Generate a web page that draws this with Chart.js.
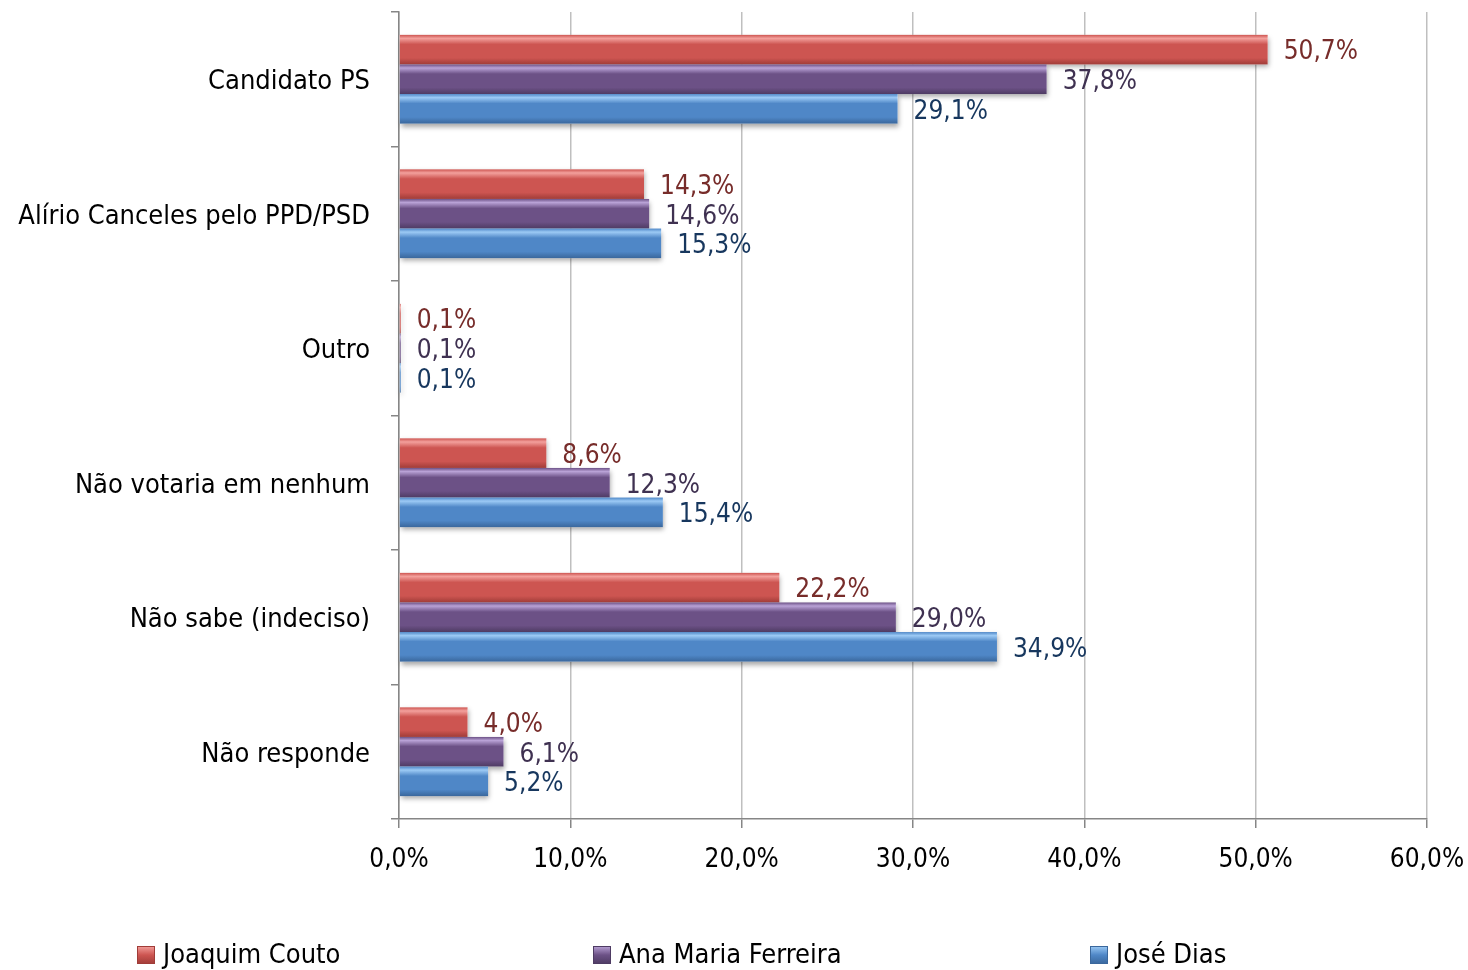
<!DOCTYPE html>
<html><head><meta charset="utf-8">
<script src="https://cdn.jsdelivr.net/npm/chart.js@4"></script>
<style>html,body{margin:0;padding:0;background:#fff;}#wrap{width:1468px;height:970px;}</style>
</head><body><div id="wrap"><canvas id="c" width="1468" height="970"></canvas></div>
<script>
const categories = ["Candidato PS","Alírio Canceles pelo PPD/PSD","Outro","Não votaria em nenhum","Não sabe (indeciso)","Não responde"];
const seriesNames = ["Joaquim Couto","Ana Maria Ferreira","José Dias"];
const joaquim = [50.7,14.3,0.1,8.6,22.2,4.0];
const ana = [37.8,14.6,0.1,12.3,29.0,6.1];
const jose = [29.1,15.3,0.1,15.4,34.9,5.2];
const xTicks = [0,10,20,30,40,50,60];

const FONT = '"Liberation Sans Narrow","Arial Narrow","DejaVu Sans Condensed",sans-serif';
const pal = [
  {light:'#f3a09c', mid:'#cd5551', dark:'#a03c38', label:'#772c2a'},
  {light:'#b9a2d6', mid:'#6c5186', dark:'#4e3b63', label:'#3f3151'},
  {light:'#9ccaf5', mid:'#4f87c7', dark:'#3a679c', label:'#17375e'}
];
const fmt = v => v.toFixed(1).replace('.', ',') + '%';

const barStyle = {
  id:'barStyle',
  beforeDatasetsDraw(chart){
    const ctx = chart.ctx;
    ctx.save();
    chart.data.datasets.forEach((ds,i)=>{
      const meta = chart.getDatasetMeta(i);
      meta.data.forEach(el=>{
        const x0 = el.base, x1 = el.x, h = el.height, y0 = el.y - h/2;
        ctx.save();
        ctx.shadowColor='rgba(0,0,0,0.35)';
        ctx.shadowBlur=5; ctx.shadowOffsetY=3; ctx.shadowOffsetX=1;
        ctx.fillStyle='#fff';
        ctx.fillRect(x0,y0,x1-x0,h);
        ctx.restore();
      });
    });
    ctx.restore();
  },
  afterDatasetsDraw(chart){
    const ctx = chart.ctx;
    ctx.save();
    chart.data.datasets.forEach((ds,i)=>{
      const meta = chart.getDatasetMeta(i);
      const p = pal[i];
      meta.data.forEach((el,j)=>{
        const x0 = el.base, x1 = el.x, h = el.height, y0 = el.y - h/2;
        const w = x1-x0;
        const g = ctx.createLinearGradient(0,y0,0,y0+h);
        g.addColorStop(0,p.mid);
        g.addColorStop(0.12,p.light);
        g.addColorStop(0.32,p.mid);
        g.addColorStop(0.78,p.mid);
        g.addColorStop(1,p.dark);
        ctx.fillStyle=g;
        ctx.fillRect(x0,y0,w,h);
        ctx.fillStyle=p.label;
        ctx.font='26px '+FONT;
        ctx.textBaseline='middle';
        ctx.textAlign='left';
        ctx.fillText(fmt(ds.data[j]), x1+16, el.y+3);
      });
    });
    ctx.restore();
  }
};

const legendPlugin = {
  id:'customLegend',
  afterDraw(chart){
    const ctx = chart.ctx;
    const xs = [137,593,1090];
    const yc = 955;
    ctx.save();
    seriesNames.forEach((name,i)=>{
      const p = pal[i];
      const bx = xs[i], by = yc-9, s = 18;
      const g = ctx.createLinearGradient(0,by,0,by+s);
      g.addColorStop(0,p.light); g.addColorStop(0.5,p.mid); g.addColorStop(1,p.dark);
      ctx.fillStyle=g; ctx.fillRect(bx,by,s,s);
      ctx.strokeStyle=p.dark; ctx.lineWidth=1; ctx.strokeRect(bx+0.5,by+0.5,s-1,s-1);
      ctx.fillStyle='#000';
      ctx.font='27px '+FONT;
      ctx.textBaseline='middle'; ctx.textAlign='left';
      ctx.fillText(name, bx+26, yc+1);
    });
    ctx.restore();
  }
};

new Chart(document.getElementById('c'),{
  type:'bar',
  data:{
    labels:categories,
    datasets:[
      {label:seriesNames[0], data:joaquim, backgroundColor:'rgba(0,0,0,0)'},
      {label:seriesNames[1], data:ana, backgroundColor:'rgba(0,0,0,0)'},
      {label:seriesNames[2], data:jose, backgroundColor:'rgba(0,0,0,0)'}
    ]
  },
  options:{
    indexAxis:'y',
    responsive:false,
    animation:false,
    categoryPercentage:0.66,
    barPercentage:1.0,
    layout:{padding:{top:12,right:41,left:0,bottom:0}},
    plugins:{legend:{display:false},tooltip:{enabled:false}},
    scales:{
      x:{
        min:0,max:60,
        afterBuildTicks(s){ s.ticks = xTicks.map(v=>({value:v})); },
        afterFit(s){ s.height = 151; s.paddingLeft = 0; s.paddingRight = 0; },
        ticks:{callback:v=>fmt(v), color:'#000', font:{family:FONT,size:26}, padding:17, maxRotation:0},
        grid:{color:'#bfbfbf', lineWidth:1.5, tickLength:9, tickColor:'#868686'},
        border:{color:'#868686', width:1.5}
      },
      y:{
        afterFit(s){ s.width = 399; s.paddingTop = 0; s.paddingBottom = 0; },
        ticks:{color:'#000', font:{family:FONT,size:27}, padding:21, labelOffset:3},
        grid:{drawOnChartArea:false, tickLength:8, color:'#868686', lineWidth:1.5, offset:true},
        border:{color:'#868686', width:1.5}
      }
    }
  },
  plugins:[barStyle,legendPlugin]
});
</script></body></html>
